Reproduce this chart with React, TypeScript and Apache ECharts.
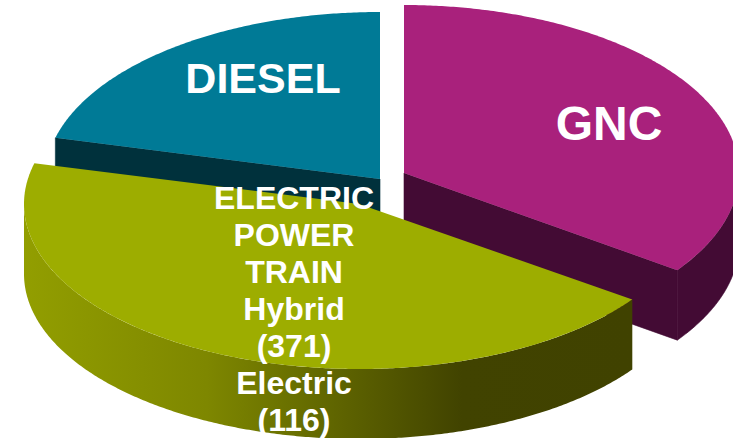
import React, { useEffect, useRef } from "react";
import * as echarts from "echarts";

const categories = ["GNC", "ELECTRIC POWER TRAIN", "DIESEL"];
const hybridCount = 371;
const electricCount = 116;
const gncCount = 384;
const dieselCount = 232;
const values = [gncCount, hybridCount + electricCount, dieselCount];
const sliceLabels = [
  "GNC",
  `ELECTRIC\nPOWER\nTRAIN\nHybrid\n(${hybridCount})\nElectric\n(${electricCount})`,
  "DIESEL",
];

const W = 733;
const H = 438;
const DEPTH = 70;
const FONT = '"Liberation Sans", Arial, sans-serif';

const geometry = [
  { cx: 404, cy: 173, rx: 335, ry: 168 },
  { cx: 359, cy: 204, rx: 335, ry: 165 },
  { cx: 380, cy: 179, rx: 335, ry: 167 },
];
const topColors = ["#A9217C", "#9DAD00", "#007A96"];
const wallColors: any[] = [
  "#430B34",
  new echarts.graphic.LinearGradient(0, 0, 1, 0, [
    { offset: 0, color: "#929E00" },
    { offset: 0.3, color: "#7E8700" },
    { offset: 0.72, color: "#414300" },
    { offset: 1, color: "#404200" },
  ]),
  "#00313C",
];
const wallStrokes = ["#430B34", null, "#00313C"];
const labelPos = [
  { x: 609, y: 123, size: 48, lineHeight: 50 },
  { x: 294, y: 308.5, size: 32, lineHeight: 37 },
  { x: 263, y: 78, size: 43, lineHeight: 46 },
];
const drawOrder = [2, 0, 1];

const total = values.reduce((a, b) => a + b, 0);
const starts: number[] = [];
values.reduce((acc, v, i) => {
  starts[i] = acc;
  return acc + (v / total) * 360;
}, 0);

function pt(g: any, deg: number, dy = 0): number[] {
  const t = (deg * Math.PI) / 180;
  return [g.cx + g.rx * Math.sin(t), g.cy - g.ry * Math.cos(t) + dy];
}
function arc(g: any, a: number, b: number, dy = 0): number[][] {
  const out: number[][] = [];
  const n = Math.max(2, Math.ceil(Math.abs(b - a) * 2));
  for (let i = 0; i <= n; i++) out.push(pt(g, a + ((b - a) * i) / n, dy));
  return out;
}

function renderItem(params: any, api: any) {
  const i = api.value(0);
  const start = api.value(1);
  const end = start + (api.value(2) / total) * 360;
  const g = geometry[i];
  const children: any[] = [];
  const wall = (points: number[][]) =>
    children.push({
      type: "polygon",
      shape: { points },
      style: { fill: wallColors[i], stroke: wallStrokes[i], lineWidth: 0.6 },
    });
  const apex = [g.cx, g.cy];
  const apexLow = [g.cx, g.cy + DEPTH];
  if (start > 180) wall([apex, pt(g, start), pt(g, start, DEPTH), apexLow]);
  if (end < 180) wall([apex, pt(g, end), pt(g, end, DEPTH), apexLow]);
  const a = Math.max(start, 90);
  const b = Math.min(end, 270);
  if (b > a) wall([...arc(g, a, b), ...arc(g, b, a, DEPTH)]);
  children.push({
    type: "polygon",
    shape: { points: [apex, ...arc(g, start, end)] },
    style: { fill: topColors[i], stroke: null },
  });
  const l = labelPos[i];
  children.push({
    type: "text",
    x: l.x,
    y: l.y,
    style: {
      text: sliceLabels[i],
      fill: "#FFFFFF",
      font: `bold ${l.size}px ${FONT}`,
      lineHeight: l.lineHeight,
      align: "center",
      verticalAlign: "middle",
    },
  });
  return { type: "group", children };
}

export default function App() {
  const ref = useRef<HTMLDivElement>(null);
  useEffect(() => {
    const chart = echarts.init(ref.current!, null, { renderer: "svg" });
    chart.setOption({
      animation: false,
      backgroundColor: "#FFFFFF",
      series: [
        {
          type: "custom",
          coordinateSystem: "none",
          name: categories.join(" / "),
          renderItem,
          clip: false,
          data: drawOrder.map((i) => [i, starts[i], values[i]]),
        },
      ],
    });
    return () => chart.dispose();
  }, []);
  return (
    <div
      ref={ref}
      style={{ position: "absolute", left: 0, top: 0, width: W, height: H, overflow: "hidden" }}
    />
  );
}
